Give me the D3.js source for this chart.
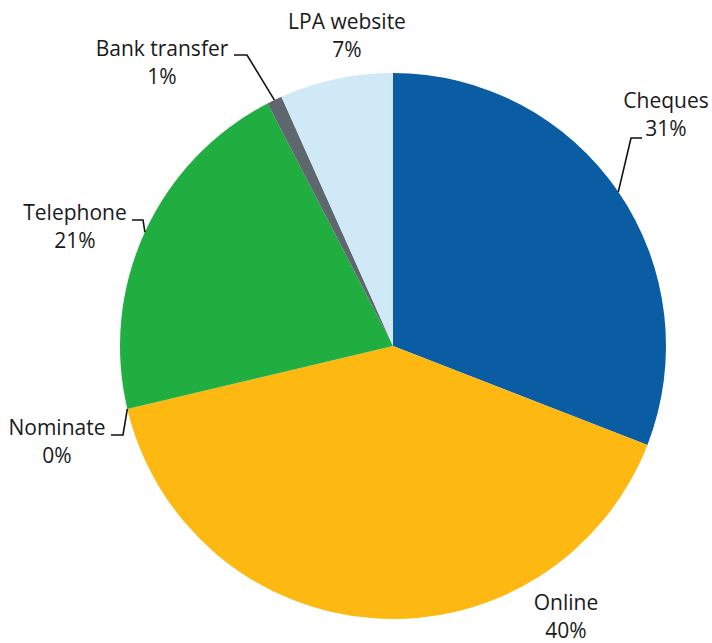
<!DOCTYPE html>
<html>
<head>
<meta charset="utf-8">
<script src="https://cdn.jsdelivr.net/npm/d3@7"></script>
<style>
  html, body { margin: 0; padding: 0; background: #ffffff; }
  svg { display: block; }
  text { font-family: "Open Sans", "Noto Sans", sans-serif; font-size: 21px; fill: #1a1a1a; }
</style>
</head>
<body>
<svg id="chart" width="712" height="643"></svg>
<script>
// Payment methods, clockwise from twelve o'clock
const categories = ["Cheques", "Online", "Nominate", "Telephone", "Bank transfer", "LPA website"];
const shares = [30.9, 40.4, 0, 21.1, 0.9, 6.7];
const colours = ["#0a5ca3", "#fdb812", "#7f7f7f", "#20ae40", "#5e666e", "#d0e9f7"];

// Label placement: centre of the text block (x, first baseline) and,
// where used, the leader line's elbow and end points.
const labelLayout = {
  "Cheques":       { x: 666, y: 108, leader: [[631, 138], [642, 138]] },
  "Online":        { x: 566, y: 610 },
  "Nominate":      { x: 57,  y: 435, leader: [[123, 435], [111, 435]] },
  "Telephone":     { x: 75,  y: 220, leader: [[143, 220], [132, 220]] },
  "Bank transfer": { x: 162, y: 56,  leader: [[247, 55], [234, 55]] },
  "LPA website":   { x: 347, y: 29 }
};

const width = 712, height = 643;
const cx = 393, cy = 346, radius = 273;
const lineGap = 28;

const svg = d3.select("#chart");
const g = svg.append("g").attr("transform", `translate(${cx},${cy})`);

const data = categories.map((c, i) => ({ name: c, value: shares[i], colour: colours[i] }));

const pie = d3.pie().sort(null).value(d => d.value).startAngle(0).endAngle(2 * Math.PI);
const arcs = pie(data);

const arc = d3.arc().innerRadius(0).outerRadius(radius);
const rim = d3.arc().innerRadius(radius).outerRadius(radius);

g.selectAll("path.slice")
  .data(arcs.filter(d => d.endAngle > d.startAngle))
  .join("path")
  .attr("class", "slice")
  .attr("d", arc)
  .attr("fill", d => d.data.colour);

// Leader lines from the slice rim to the label
const lines = svg.append("g").attr("fill", "none").attr("stroke", "#111").attr("stroke-width", 1.6);
arcs.forEach(d => {
  const lay = labelLayout[d.data.name];
  if (!lay.leader) return;
  const [px, py] = rim.centroid(d);
  const pts = [[cx + px, cy + py]].concat(lay.leader);
  lines.append("path").attr("d", d3.line()(pts));
});

// Two-line labels: name and rounded percentage
const fmt = v => Math.round(v) + "%";
const labels = svg.append("g").attr("text-anchor", "middle");
arcs.forEach(d => {
  const lay = labelLayout[d.data.name];
  const t = labels.append("text").attr("x", lay.x).attr("y", lay.y);
  t.append("tspan").attr("x", lay.x).attr("y", lay.y).text(d.data.name);
  t.append("tspan").attr("x", lay.x).attr("y", lay.y + lineGap).text(fmt(d.data.value));
});
</script>
</body>
</html>
